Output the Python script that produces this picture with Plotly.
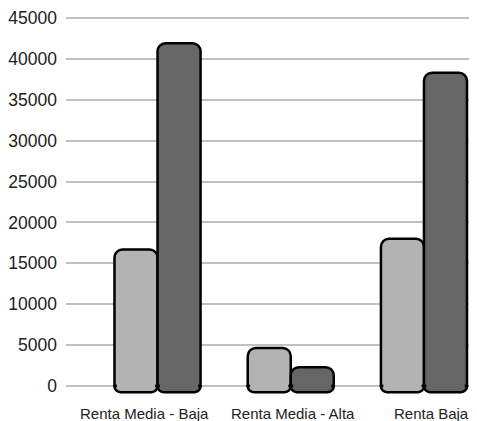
import plotly.graph_objects as go

categories = ["Renta Media - Baja", "Renta Media - Alta", "Renta Baja"]
serie_clara = [16700, 4650, 18000]
serie_oscura = [41900, 2300, 38300]
y_ticks = [0, 5000, 10000, 15000, 20000, 25000, 30000, 35000, 40000, 45000]
label_shift = [-13, 2, 8]

colors = ["#b3b3b3", "#666666"]
series = [serie_clara, serie_oscura]

W = 0.323            # bar width in category units
PX_UNIT = 133.25     # approx pixels per category
INSET = 2.4 / PX_UNIT
DROP = 750           # bars extend slightly below the baseline
COVER = 250

fig = go.Figure()
# main (upward) bars, rounded tops
for i, (vals, col) in enumerate(zip(series, colors)):
    fig.add_bar(x=categories, y=vals, offset=-W + i * W, width=W,
                marker=dict(color=col, line=dict(color="black", width=2.5), cornerradius=8),
                showlegend=False, hoverinfo="skip")
# bottom caps (downward from the baseline), rounded bottoms
for i, (vals, col) in enumerate(zip(series, colors)):
    fig.add_bar(x=categories, y=[-DROP] * len(vals), offset=-W + i * W, width=W,
                marker=dict(color=col, line=dict(color="black", width=2.5), cornerradius=6),
                showlegend=False, hoverinfo="skip")
# covers hiding the seam at the baseline
for i, (vals, col) in enumerate(zip(series, colors)):
    fig.add_bar(x=categories, y=[2 * COVER] * len(vals), base=-COVER,
                offset=-W + i * W + INSET, width=W - 2 * INSET,
                marker=dict(color=col, line=dict(width=0)),
                showlegend=False, hoverinfo="skip")

for cat, dx in zip(categories, label_shift):
    fig.add_annotation(x=cat, xref="x", y=0, yref="paper", yanchor="top", yshift=-8,
                       xshift=dx, text=cat, showarrow=False,
                       font=dict(size=15, color="#222222"))

fig.update_layout(
    width=469, height=413,
    margin=dict(l=58, r=0, t=2, b=26),
    barmode="overlay",
    plot_bgcolor="white", paper_bgcolor="white",
    font=dict(family="Liberation Sans, Arial, sans-serif", color="#222222"),
    xaxis=dict(type="category", range=[-0.687, 2.398], showgrid=False, zeroline=False,
               showline=False, ticks="", showticklabels=False),
    yaxis=dict(range=[-1092, 45606], tickvals=y_ticks, ticktext=[str(v) for v in y_ticks],
               showgrid=True, gridcolor="#c0c0c0", gridwidth=2, zeroline=False,
               showline=False, ticks="", tickfont=dict(size=17.5), ticklabelstandoff=8,
               ticklabeloverflow="allow"),
)

fig.write_html("out.html")
